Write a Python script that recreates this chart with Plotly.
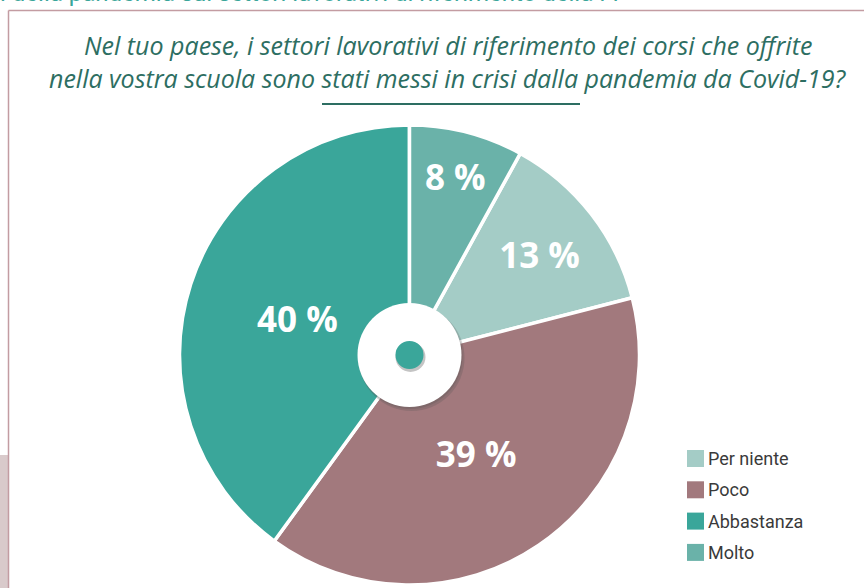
import plotly.graph_objects as go

# ---- data ----
categories = ["Per niente", "Poco", "Abbastanza", "Molto"]
values = [13, 39, 40, 8]
colors = ["#A4CCC6", "#A2797D", "#3AA69A", "#6AB2A9"]
title_lines = [
    "Nel tuo paese, i settori lavorativi di riferimento dei corsi che offrite",
    "nella vostra scuola sono stati messi in crisi dalla pandemia da Covid-19?",
]
header_text = "i della pandemia sui settori lavorativi di riferimento della FP"

W, H = 864, 588
cx, cy, R = 409.5, 355, 230  # pie centre / radius in pixels


def px(x):
    return x / W


def py(y):
    return 1 - y / H


fig = go.Figure()
fig.add_trace(go.Pie(
    labels=categories,
    values=values,
    sort=False,
    direction="clockwise",
    rotation=360 * values[-1] / sum(values),
    hole=0,
    marker=dict(colors=colors, line=dict(color="white", width=3.5)),
    texttemplate="%{value} %",
    textposition="inside",
    insidetextorientation="horizontal",
    textfont=dict(family="Open Sans", size=35, color="white", weight="bold"),
    domain=dict(x=[px(cx - R), px(cx + R)], y=[py(cy + R), py(cy - R)]),
    showlegend=False,
    hoverinfo="label+percent",
))

shapes = []
annotations = []

# frame lines
shapes.append(dict(type="rect", xref="paper", yref="paper", x0=0, x1=px(8),
                   y0=py(588), y1=py(455), fillcolor="#D9CACB", line=dict(width=0), layer="below"))
shapes.append(dict(type="line", xref="paper", yref="paper", x0=px(8.5), x1=1.01,
                   y0=py(10.5), y1=py(10.5), line=dict(color="#C39CA2", width=1.5)))
shapes.append(dict(type="line", xref="paper", yref="paper", x0=px(8.5), x1=px(8.5),
                   y0=py(10.5), y1=-0.01, line=dict(color="#C39CA2", width=1.5)))
# line under title
shapes.append(dict(type="line", xref="paper", yref="paper", x0=px(322), x1=px(580),
                   y0=py(104), y1=py(104), line=dict(color="#2D6E62", width=2)))

# centre disc with shadow
def circle(r, dx, dy, color, opacity=1.0):
    return dict(type="circle", xref="paper", yref="paper",
                xsizemode="pixel", ysizemode="pixel",
                xanchor=px(cx), yanchor=py(cy),
                x0=-r + dx, x1=r + dx, y0=-r - dy, y1=r - dy,
                fillcolor=color, opacity=opacity, line=dict(width=0), layer="above")

shapes.append(circle(53, 2, 3, "#555555", 0.25))
shapes.append(circle(52, 1, 2, "#555555", 0.25))
shapes.append(circle(52, 0, 0, "white"))
shapes.append(circle(15, 1, 2, "#555555", 0.35))
shapes.append(circle(14, 0, 0, "#3AA69A"))

# custom legend
leg_x0, leg_y0, leg_dy, sq = 687, 458.5, 31.3, 17
for i, (cat, col) in enumerate(zip(categories, colors)):
    yc = leg_y0 + i * leg_dy
    shapes.append(dict(type="rect", xref="paper", yref="paper",
                       x0=px(leg_x0), x1=px(leg_x0 + sq),
                       y0=py(yc + sq / 2), y1=py(yc - sq / 2),
                       fillcolor=col, line=dict(width=0)))
    annotations.append(dict(x=px(leg_x0 + sq + 2), y=py(yc), xref="paper", yref="paper",
                            xanchor="left", yanchor="middle", showarrow=False,
                            text=cat, font=dict(family="Roboto", size=18, color="#3A3A3A")))

# title lines
for i, line in enumerate(title_lines):
    annotations.append(dict(x=px(448), y=py(45 + i * 33), xref="paper", yref="paper",
                            xanchor="center", yanchor="middle", showarrow=False,
                            text=line,
                            font=dict(family="Open Sans", size=25, color="#2D6E62", style="italic")))

# cut-off header text at very top
annotations.append(dict(x=px(-2), y=py(9), xref="paper", yref="paper",
                        xanchor="left", yanchor="bottom", showarrow=False,
                        text=header_text,
                        font=dict(family="Roboto", size=24, color="#3AA69A")))

fig.update_layout(
    width=W, height=H,
    margin=dict(l=0, r=0, t=0, b=0),
    paper_bgcolor="white", plot_bgcolor="white",
    shapes=shapes, annotations=annotations,
    showlegend=False,
)

fig.write_html("out.html", config={"displayModeBar": False},
               post_script="document.body.style.margin='0';")
